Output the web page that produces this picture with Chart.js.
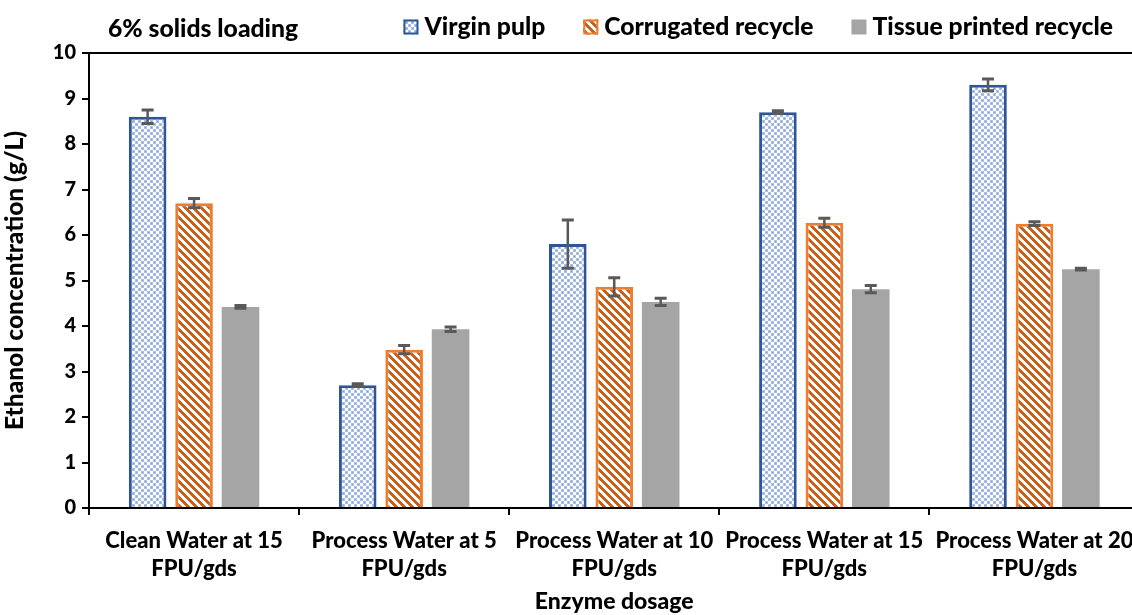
<!DOCTYPE html>
<html>
<head>
<meta charset="utf-8">
<script src="https://cdn.jsdelivr.net/npm/chart.js@4"></script>
<style>
  html, body { margin: 0; padding: 0; background: #fff; overflow: hidden; }
  #wrap { width: 1146px; height: 615px; position: relative; }
</style>
</head>
<body>
<div id="wrap"><canvas id="c" width="1146" height="615"></canvas></div>
<script>
// Enzyme dosage groups (two-line tick labels)
const categories = [
  ['Clean Water at 15', 'FPU/gds'],
  ['Process Water at 5', 'FPU/gds'],
  ['Process Water at 10', 'FPU/gds'],
  ['Process Water at 15', 'FPU/gds'],
  ['Process Water at 20', 'FPU/gds']
];
const seriesNames = ['Virgin pulp', 'Corrugated recycle', 'Tissue printed recycle'];

// Ethanol concentration (g/L)
const virginPulp      = [8.60, 2.70, 5.80, 8.70, 9.30];
const corrugated      = [6.70, 3.48, 4.86, 6.27, 6.25];
const tissuePrinted   = [4.42, 3.93, 4.53, 4.81, 5.25];

// Standard deviations
const virginPulpErr    = [0.15, 0.03, 0.53, 0.03, 0.13];
const corrugatedErr    = [0.10, 0.09, 0.20, 0.10, 0.04];
const tissuePrintedErr = [0.03, 0.05, 0.08, 0.08, 0.02];

const yTicks = [0, 1, 2, 3, 4, 5, 6, 7, 8, 9, 10];
const titleText = '6% solids loading';

const FONT = 'Lato, "Open Sans", sans-serif';

// Fill patterns
function smallCheck() {
  const n = 6;
  const t = document.createElement('canvas');
  t.width = n; t.height = n;
  const g = t.getContext('2d');
  g.fillStyle = '#ffffff'; g.fillRect(0, 0, n, n);
  g.fillStyle = '#a9bfe6';
  g.fillRect(0, 0, 3, 3); g.fillRect(3, 3, 3, 3);
  g.fillStyle = '#7f9fd8';
  g.fillRect(1, 1, 1, 1); g.fillRect(4, 4, 1, 1);
  return g.createPattern(t, 'repeat');
}
function wideDownDiagonal() {
  const n = 8;
  const t = document.createElement('canvas');
  t.width = n; t.height = n;
  const g = t.getContext('2d');
  g.fillStyle = '#ffffff'; g.fillRect(0, 0, n, n);
  g.fillStyle = '#c9601a';
  for (let y = 0; y < n; y++) {
    for (let x = 0; x < n; x++) {
      if (((x - y) % n + n) % n < 4) g.fillRect(x, y, 1, 1);
    }
  }
  return g.createPattern(t, 'repeat');
}

const blueFill = smallCheck();
const orangeFill = wideDownDiagonal();

const datasets = [
  { label: seriesNames[0], data: virginPulp, err: virginPulpErr,
    backgroundColor: blueFill, borderColor: '#2f5597', borderWidth: 3 },
  { label: seriesNames[1], data: corrugated, err: corrugatedErr,
    backgroundColor: orangeFill, borderColor: '#ed7d31', borderWidth: 3 },
  { label: seriesNames[2], data: tissuePrinted, err: tissuePrintedErr,
    backgroundColor: '#a5a5a5', borderColor: '#a5a5a5', borderWidth: 0 }
];

// Error bars drawn over each bar
const errorBars = {
  id: 'errorBars',
  afterDatasetsDraw(chart) {
    const ctx = chart.ctx;
    const y = chart.scales.y;
    ctx.save();
    ctx.strokeStyle = '#595959';
    ctx.lineCap = 'butt';
    chart.data.datasets.forEach((ds, i) => {
      const meta = chart.getDatasetMeta(i);
      meta.data.forEach((bar, j) => {
        const v = ds.data[j], e = ds.err[j];
        const top = y.getPixelForValue(v + e);
        const bot = y.getPixelForValue(v - e);
        ctx.lineWidth = 2.5;
        ctx.beginPath();
        ctx.moveTo(bar.x, top); ctx.lineTo(bar.x, bot);
        ctx.stroke();
        ctx.lineWidth = 3;
        ctx.beginPath();
        ctx.moveTo(bar.x - 6, top); ctx.lineTo(bar.x + 6, top);
        ctx.moveTo(bar.x - 6, bot); ctx.lineTo(bar.x + 6, bot);
        ctx.stroke();
      });
    });
    ctx.restore();
  }
};

// Top frame line, title and legend row
const header = {
  id: 'header',
  afterDraw(chart) {
    const ctx = chart.ctx;
    const a = chart.chartArea;
    ctx.save();
    ctx.strokeStyle = '#000';
    ctx.lineWidth = 2;
    ctx.beginPath();
    ctx.moveTo(a.left - 7, a.top); ctx.lineTo(chart.width, a.top);
    ctx.stroke();

    const rowY = 27;
    ctx.font = '900 24.7px ' + FONT;
    ctx.textBaseline = 'middle';
    ctx.fillStyle = '#000';
    ctx.textAlign = 'left';
    ctx.fillText(titleText, 108, rowY + 2);

    const box = 15, gapBox = 6, gapItem = 38;
    const widths = chart.data.datasets.map(d => ctx.measureText(d.label).width);
    let total = 0;
    widths.forEach((w, i) => { total += box + gapBox + w + (i ? gapItem : 0); });
    let x = 1113 - total;
    chart.data.datasets.forEach((d, i) => {
      ctx.fillStyle = d.backgroundColor;
      ctx.fillRect(x, rowY - box / 2, box, box);
      if (d.borderWidth) {
        ctx.strokeStyle = d.borderColor;
        ctx.lineWidth = 2;
        ctx.strokeRect(x + 1, rowY - box / 2 + 1, box - 2, box - 2);
      }
      ctx.fillStyle = '#000';
      ctx.fillText(d.label, x + box + gapBox, rowY);
      x += box + gapBox + widths[i] + gapItem;
    });
    ctx.restore();
  }
};

new Chart(document.getElementById('c'), {
  type: 'bar',
  data: { labels: categories, datasets },
  options: {
    responsive: false,
    animation: false,
    layout: { padding: { top: 53, right: 6, left: 0, bottom: 0 } },
    datasets: { bar: { categoryPercentage: 0.663, barPercentage: 0.81, borderSkipped: 'start' } },
    plugins: { legend: { display: false }, tooltip: { enabled: false } },
    scales: {
      x: {
        grid: { offset: true, drawOnChartArea: false, drawTicks: true, tickLength: 7, color: '#000', lineWidth: 2 },
        border: { color: '#000', width: 2 },
        ticks: { color: '#000', font: { family: FONT, size: 22, weight: '900', lineHeight: 1.27 }, padding: 12, maxRotation: 0, autoSkip: false },
        title: { display: true, text: 'Enzyme dosage', color: '#000', font: { family: FONT, size: 23, weight: '900' }, padding: { top: 0, bottom: 0 } },
        afterFit(s) { s.height = 107; }
      },
      y: {
        min: 0, max: 10,
        afterBuildTicks(s) { s.ticks = yTicks.map(v => ({ value: v })); },
        grid: { drawOnChartArea: false, drawTicks: true, tickLength: 7, color: '#000', lineWidth: 2 },
        border: { color: '#000', width: 2 },
        ticks: { color: '#000', font: { family: FONT, size: 20, weight: '900' }, padding: 6 },
        title: { display: true, text: 'Ethanol concentration (g/L)', color: '#000', font: { family: FONT, size: 24.5, weight: '900' }, padding: { top: 0, bottom: 0 } },
        afterFit(s) { s.width = 89; }
      }
    }
  },
  plugins: [errorBars, header]
});
</script>
</body>
</html>
